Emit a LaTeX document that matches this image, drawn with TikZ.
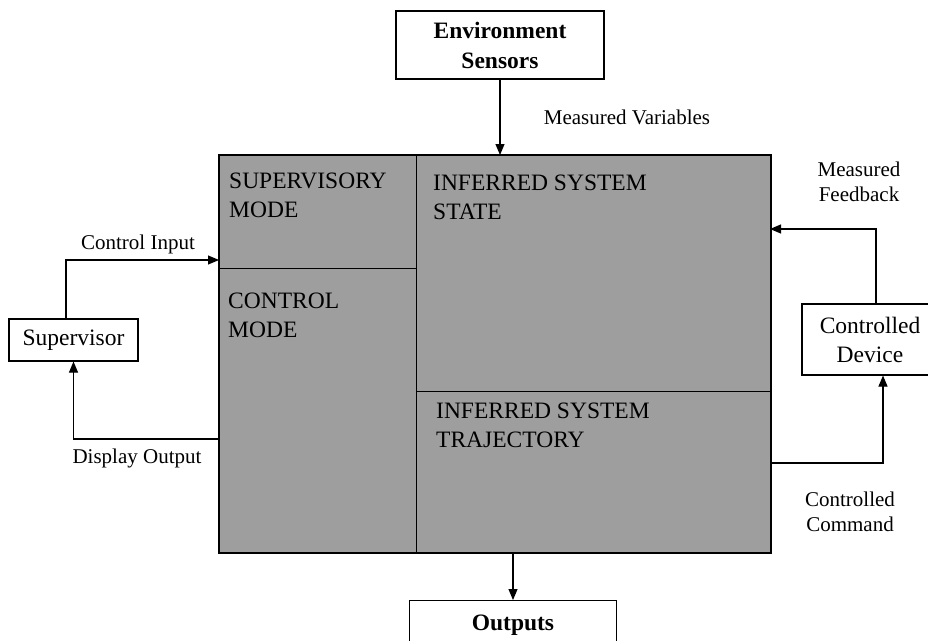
\documentclass[tikz,border=0pt]{standalone}
\usepackage{fontspec}
\setmainfont{Liberation Serif}
\usetikzlibrary{arrows.meta}
\begin{document}
\begin{tikzpicture}[x=1pt,y=-1pt,
  region/.style={draw=black, line width=1.1pt, fill=black!38, inner sep=0pt, anchor=north west},
  boxnode/.style={draw=black, line width=1.1pt, fill=white, align=center, inner sep=0pt},
  bigtext/.style={font=\fontsize{23.5}{29}\selectfont},
  smalltext/.style={font=\fontsize{21}{25}\selectfont, align=center, inner sep=0pt},
  regiontext/.style={font=\fontsize{23.5}{29}\selectfont, align=left, inner sep=0pt, anchor=north west},
  arr/.style={line width=1.1pt, -{Triangle[length=11pt,width=9pt]}}]
\clip (0,0) rectangle (928,640);

% central block split into four regions
\node[region, minimum width=197pt, minimum height=113pt] (supmode) at (219,155) {};
\node[region, minimum width=197pt, minimum height=284pt] (ctlmode) at (219,268) {};
\node[region, minimum width=354pt, minimum height=236pt] (state) at (416,155) {};
\node[region, minimum width=354pt, minimum height=161pt] (traj) at (416,391) {};
\draw[line width=1.5pt] (supmode.north west) rectangle (traj.south east);

\node[regiontext] (supmodetxt) at (229,173) {SUPERVISORY\\MODE};
\node[regiontext] (ctlmodetxt) at (228,293) {CONTROL\\MODE};
\node[regiontext] (statetxt) at (433,175) {INFERRED SYSTEM\\STATE};
\node[regiontext] (trajtxt) at (436,403) {INFERRED SYSTEM\\TRAJECTORY};

% surrounding blocks
\node[boxnode, bigtext, font=\fontsize{23.5}{30}\selectfont\bfseries,
      minimum width=208pt, minimum height=68pt] (env) at (500,45) {Environment\\Sensors};
\node[boxnode, bigtext, minimum width=129pt, minimum height=42pt] (sup) at (73.5,340) {Supervisor};
\node[boxnode, bigtext, minimum width=136pt, minimum height=71pt] (dev) at (870,339.5) {Controlled\\Device};
\node[boxnode, bigtext, font=\fontsize{23.5}{29}\selectfont\bfseries,
      minimum width=207pt, minimum height=50pt, anchor=north] (out) at (513,600) {Outputs};

% connection points on the central block
\coordinate (ci) at (219,260);
\coordinate (dout) at (219,439);
\coordinate (mf) at (770,229);
\coordinate (cc) at (770,463);
\coordinate (ob) at (513,552);

% connectors
\draw[arr] (env.south) -- (env.south |- state.north);
\draw[arr] ([xshift=-7.5pt]sup.north) |- (ci);
\draw[arr] (dout) -| (sup.south);
\draw[arr] ([xshift=6pt]dev.north) |- (mf);
\draw[arr] (cc) -| ([xshift=13pt]dev.south);
\draw[arr] (ob) -- (out.north);

% connector labels
\node[smalltext] (lmv) at (627,117) {Measured Variables};
\node[smalltext] (lci) at (138,244) {Control Input};
\node[smalltext] (ldo) at (137,458) {Display Output};
\node[smalltext] (lmf) at (859,182) {Measured\\Feedback};
\node[smalltext] (lcc) at (850,512) {Controlled\\Command};
\end{tikzpicture}
\end{document}
